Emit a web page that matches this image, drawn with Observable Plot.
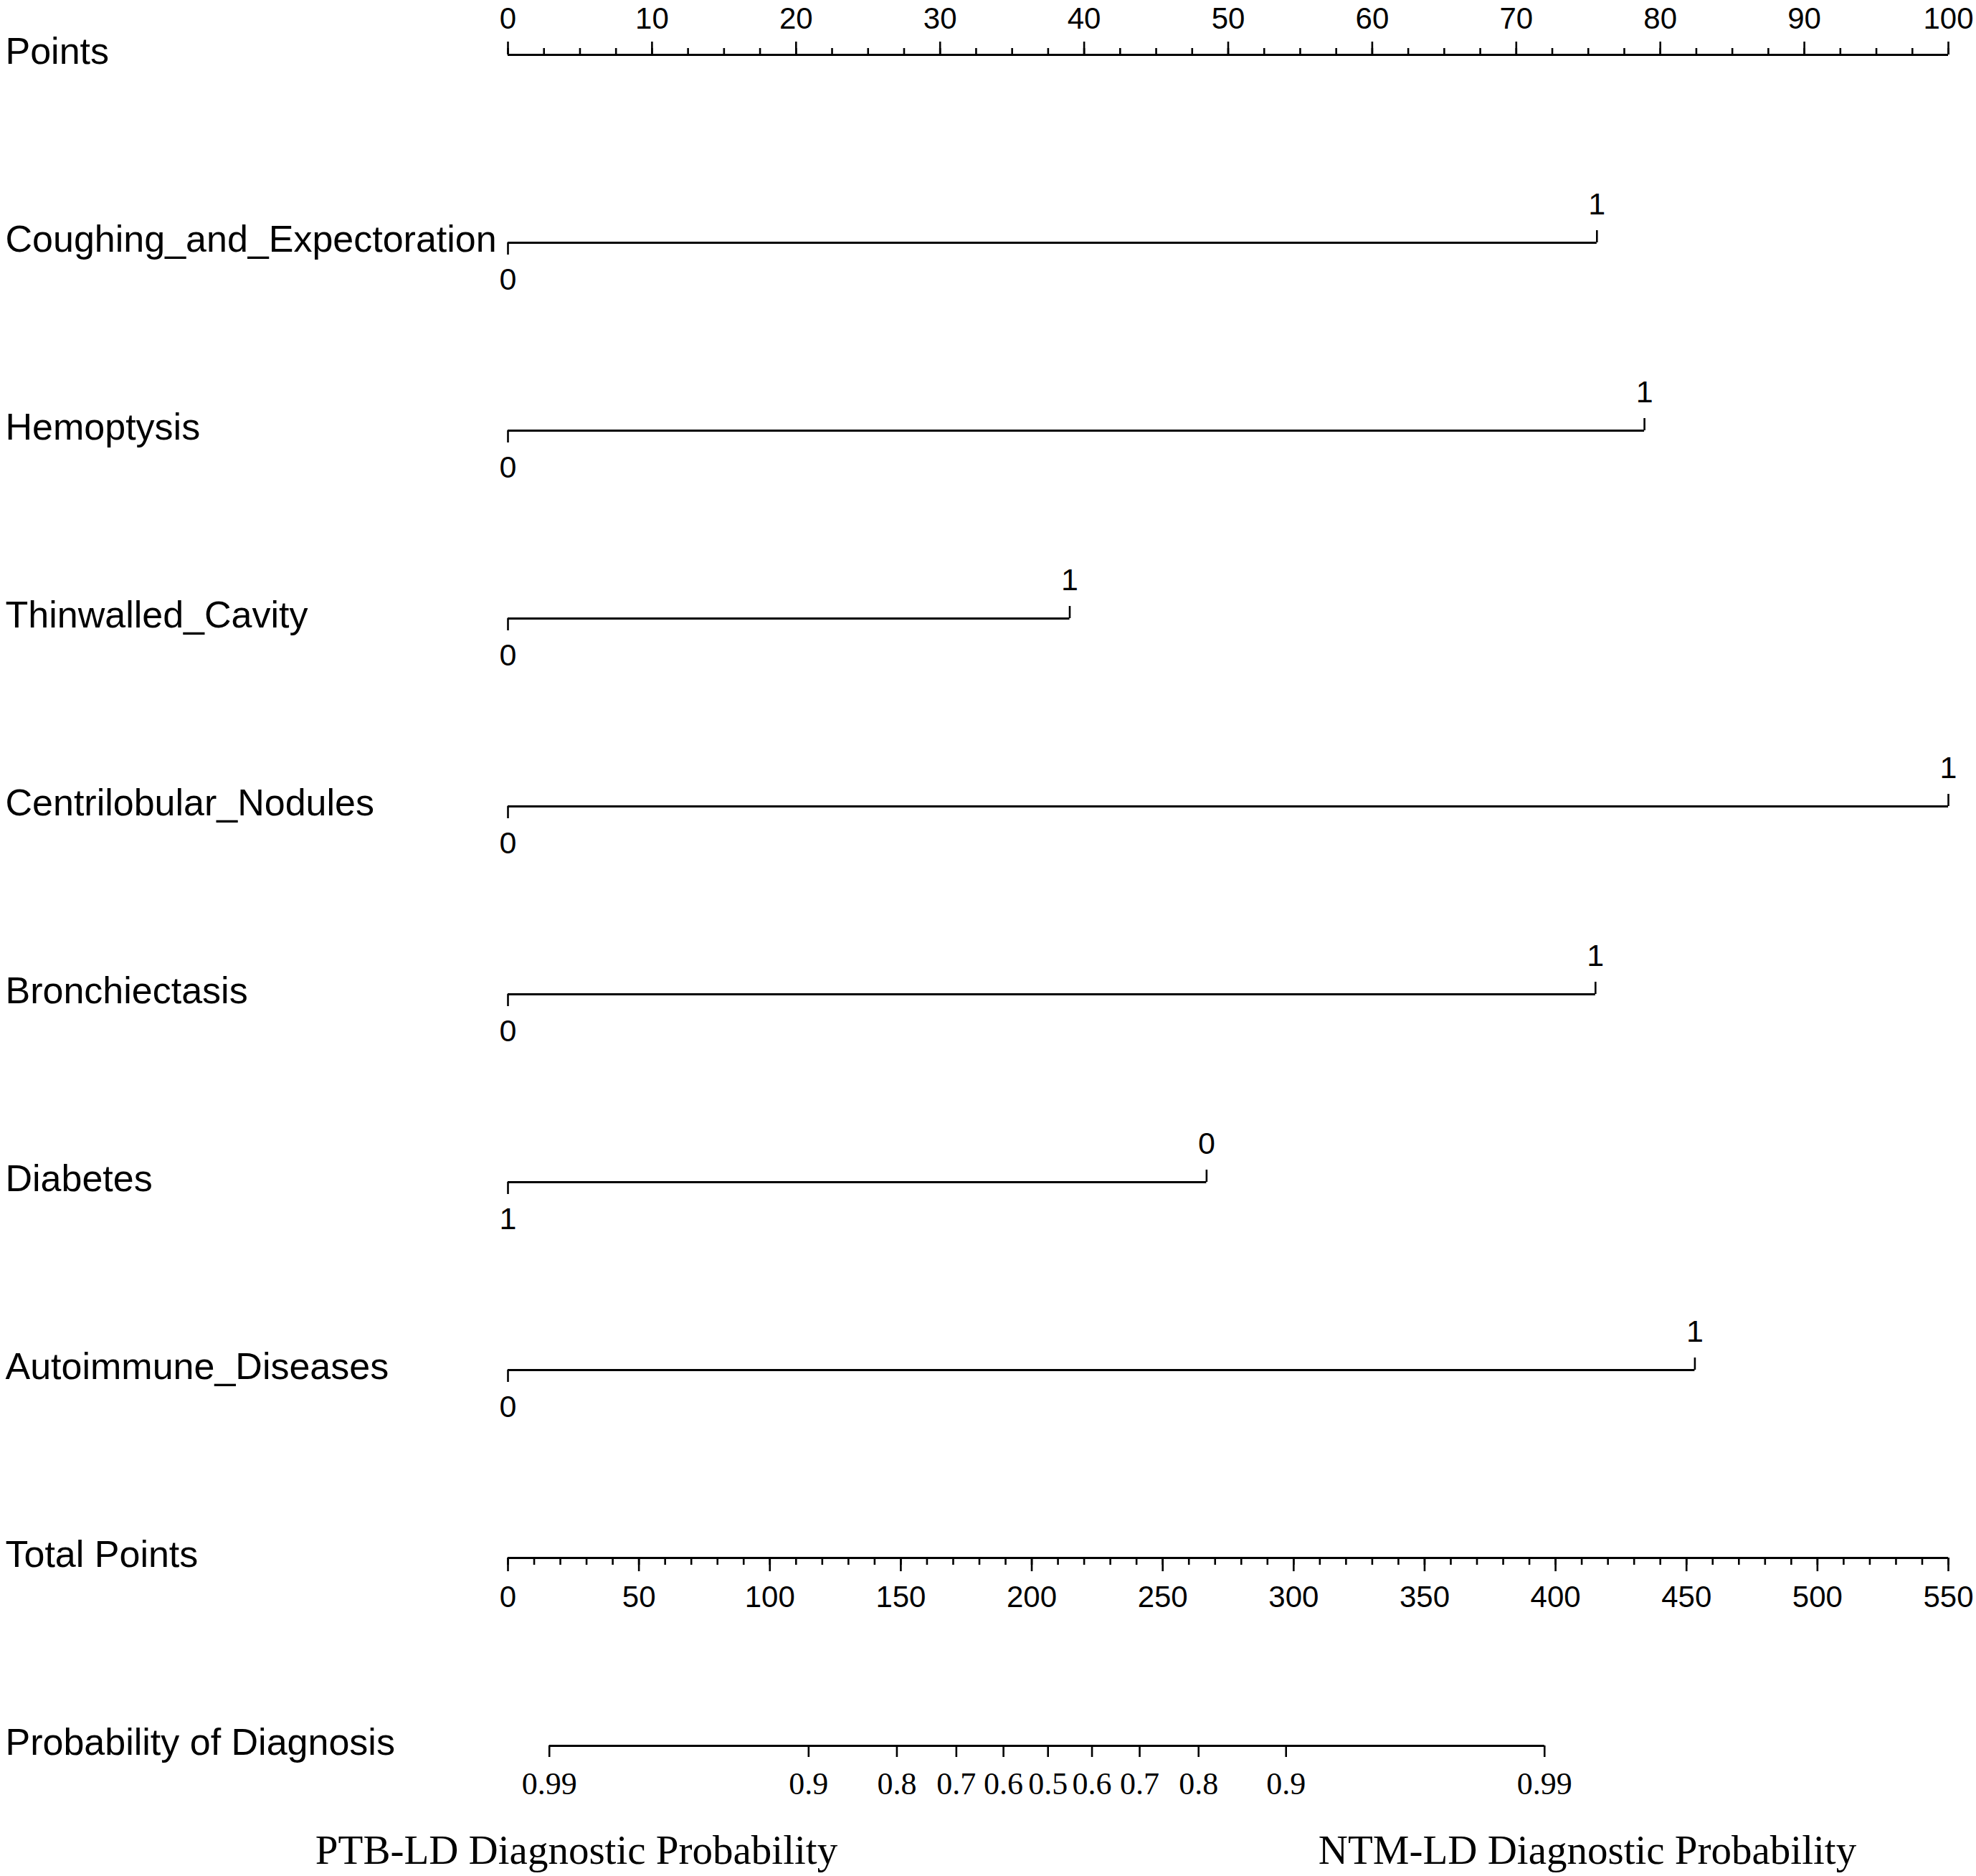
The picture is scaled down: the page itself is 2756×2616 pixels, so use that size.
<!DOCTYPE html>
<html><head><meta charset="utf-8">
<script src="https://cdn.jsdelivr.net/npm/d3@7"></script>
<script src="https://cdn.jsdelivr.net/npm/@observablehq/plot@0.6"></script>
<style>
body{margin:0;background:#fff;}
#wrap{position:relative;width:2756px;height:2616px;background:#fff;}
#wrap svg{display:block;}
.title{position:absolute;font-family:"Liberation Serif","Times New Roman",serif;font-size:57px;color:#000;transform:translate(-50%,-50%);white-space:nowrap;}
</style></head><body><div id="wrap"></div>
<script>
// ---- data ----
const variables = ["Coughing_and_Expectoration","Hemoptysis","Thinwalled_Cavity","Centrilobular_Nodules","Bronchiectasis","Diabetes","Autoimmune_Diseases"];
const maxPoints = [75.6, 78.9, 39.0, 100, 75.5, 48.5, 82.4];
const leftLabels = ["0","0","0","0","0","1","0"];
const rightLabels = ["1","1","1","1","1","0","1"];

const pointsMajor = [0,10,20,30,40,50,60,70,80,90,100];
const pointsMinor = [0,2.5,5,7.5,10,12.5,15,17.5,20,22.5,25,27.5,30,32.5,35,37.5,40,42.5,45,47.5,50,52.5,55,57.5,60,62.5,65,67.5,70,72.5,75,77.5,80,82.5,85,87.5,90,92.5,95,97.5,100];

const totalMax = 550;
const totalMajor = [0,50,100,150,200,250,300,350,400,450,500,550];
const totalMinor = [0,10,20,30,40,50,60,70,80,90,100,110,120,130,140,150,160,170,180,190,200,210,220,230,240,250,260,270,280,290,300,310,320,330,340,350,360,370,380,390,400,410,420,430,440,450,460,470,480,490,500,510,520,530,540,550];

const probTickTotals = [15.8, 114.8, 148.5, 171.2, 189.2, 206.2, 223.0, 241.2, 263.7, 297.1, 395.8];
const probTickLabels = ["0.99","0.9","0.8","0.7","0.6","0.5","0.6","0.7","0.8","0.9","0.99"];

const titleLeft = "PTB-LD Diagnostic Probability";
const titleRight = "NTM-LD Diagnostic Probability";

// ---- build ----
const rowPoints = "Points", rowTotal = "Total Points", rowProb = "Probability of Diagnosis";
const rowNames = [rowPoints, ...variables, rowTotal, rowProb];
const vars = variables.map((v, i) => ({v, max: maxPoints[i], lo: leftLabels[i], hi: rightLabels[i]}));
const toPts = t => t * 100 / totalMax;
const sans = "Liberation Sans, Arial, sans-serif";
const serif = "Liberation Serif, Times New Roman, serif";
const lw = 3.2, tw = 2.6;

const chart = Plot.plot({
  width: 2756,
  height: 2530,
  marginLeft: 708,
  marginRight: 39,
  marginTop: 73,
  marginBottom: 94,
  x: {domain: [0, 100], axis: null},
  y: {type: "point", domain: rowNames, padding: 0, axis: null},
  style: {background: "#fff", color: "#000", fontFamily: sans},
  marks: [
    // row labels
    Plot.text(rowNames, {y: d => d, text: d => d, frameAnchor: "left", textAnchor: "start", dx: -701, dy: -4, fontSize: 52, fontFamily: sans, fill: "#000"}),

    // Points axis
    Plot.ruleY([0], {x1: 0, x2: 100, y: () => rowPoints, stroke: "#000", strokeWidth: lw}),
    Plot.ruleX(pointsMinor, {x: d => d, y1: () => rowPoints, y2: () => rowPoints, insetTop: -9, insetBottom: 0, stroke: "#000", strokeWidth: tw}),
    Plot.ruleX(pointsMajor, {x: d => d, y1: () => rowPoints, y2: () => rowPoints, insetTop: -18, insetBottom: 0, stroke: "#000", strokeWidth: tw}),
    Plot.text(pointsMajor, {x: d => d, y: () => rowPoints, text: d => String(d), dy: -50, fontSize: 42, fontFamily: sans, fill: "#000"}),

    // variable rows
    Plot.ruleY(vars, {x1: 0, x2: d => d.max, y: d => d.v, stroke: "#000", strokeWidth: lw}),
    Plot.ruleX(vars, {x: 0, y1: d => d.v, y2: d => d.v, insetTop: 0, insetBottom: -17, stroke: "#000", strokeWidth: tw}),
    Plot.ruleX(vars, {x: d => d.max, y1: d => d.v, y2: d => d.v, insetTop: -17, insetBottom: 0, stroke: "#000", strokeWidth: tw}),
    Plot.text(vars, {x: 0, y: d => d.v, text: d => d.lo, dy: 52, fontSize: 43, fontFamily: sans, fill: "#000"}),
    Plot.text(vars, {x: d => d.max, y: d => d.v, text: d => d.hi, dy: -53, fontSize: 43, fontFamily: sans, fill: "#000"}),

    // Total points axis
    Plot.ruleY([0], {x1: 0, x2: toPts(totalMax), y: () => rowTotal, stroke: "#000", strokeWidth: lw}),
    Plot.ruleX(totalMinor, {x: d => toPts(d), y1: () => rowTotal, y2: () => rowTotal, insetTop: 0, insetBottom: -10, stroke: "#000", strokeWidth: tw}),
    Plot.ruleX(totalMajor, {x: d => toPts(d), y1: () => rowTotal, y2: () => rowTotal, insetTop: 0, insetBottom: -19, stroke: "#000", strokeWidth: tw}),
    Plot.text(totalMajor, {x: d => toPts(d), y: () => rowTotal, text: d => String(d), dy: 55, fontSize: 42, fontFamily: sans, fill: "#000"}),

    // Probability axis
    Plot.ruleY([0], {x1: toPts(probTickTotals[0]), x2: toPts(probTickTotals[probTickTotals.length - 1]), y: () => rowProb, stroke: "#000", strokeWidth: lw}),
    Plot.ruleX(probTickTotals, {x: d => toPts(d), y1: () => rowProb, y2: () => rowProb, insetTop: 0, insetBottom: -16, stroke: "#000", strokeWidth: tw}),
    Plot.text(probTickTotals, {x: d => toPts(d), y: () => rowProb, text: (d, i) => probTickLabels[i], dy: 53, fontSize: 44, fontFamily: serif, fill: "#000"})
  ]
});

const wrap = document.getElementById("wrap");
wrap.appendChild(chart);
const t1 = document.createElement("div");
t1.className = "title"; t1.textContent = titleLeft;
t1.style.left = "804px"; t1.style.top = "2579px";
const t2 = document.createElement("div");
t2.className = "title"; t2.textContent = titleRight;
t2.style.left = "2214px"; t2.style.top = "2579px";
wrap.appendChild(t1); wrap.appendChild(t2);
</script>
</body></html>
